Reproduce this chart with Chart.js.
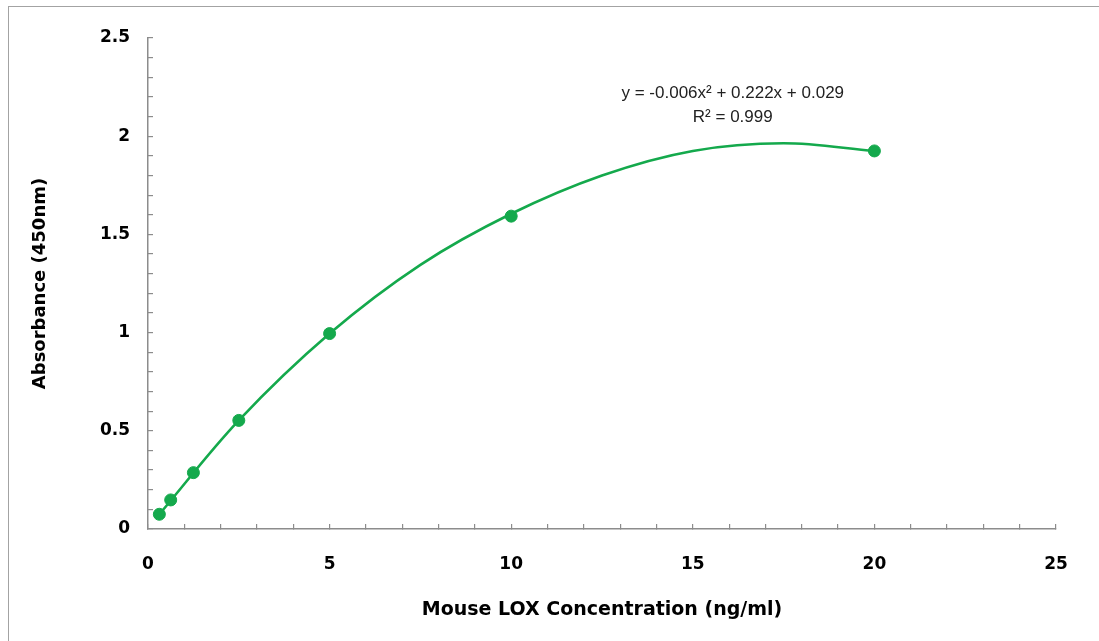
<!DOCTYPE html>
<html lang="en">

<head>
	<meta charset="UTF-8">
	<title>Mouse LOX Standard Curve</title>
	<script src="https://cdn.jsdelivr.net/npm/chart.js"></script>
	<style>
	html, body { margin: 0; padding: 0; background: #fff; overflow: hidden; }
	#frame { position: absolute; left: 8px; top: 6px; width: 1300px; height: 900px; border: 1.5px solid #a3a3a3; }
	#wrap { position: absolute; left: 0; top: 0; width: 1099px; height: 641px; }
	</style>
</head>

<body>
	<div id="frame"></div>
	<div id="wrap"><canvas id="stdChart"></canvas></div>
	<script>
	// standard points (ng/ml vs OD450)
	const concentrations = [0.3125, 0.625, 1.25, 2.5, 5, 10, 20];
	const absorbance = [0.075, 0.148, 0.287, 0.553, 0.995, 1.593, 1.925];

	// trendline
	const trendX = [0.3125, 2.5, 5, 7.5, 10, 12.5, 15, 17.5, 20];
	const trendY = [0.075, 0.553, 0.995, 1.345, 1.605, 1.8, 1.925, 1.964, 1.925];

	const equationLines = ['y = -0.006x\u00b2 + 0.222x + 0.029', 'R\u00b2 = 0.999'];

	const green = '#14a94c';
	const axisGrey = '#8c8c8c';
	const tickFont = { family: 'DejaVu Sans', weight: 'bold', size: 17 };

	const equationPlugin = {
		id: 'equation',
		afterDatasetsDraw(chart) {
			const ctx = chart.ctx;
			const x = chart.scales.x.getPixelForValue(16.1);
			const y = chart.scales.y.getPixelForValue(2.22);
			ctx.save();
			ctx.fillStyle = '#222';
			ctx.font = '17px "Liberation Sans", Arial, sans-serif';
			ctx.textAlign = 'center';
			ctx.textBaseline = 'middle';
			ctx.fillText(equationLines[0], x, y);
			ctx.fillText(equationLines[1], x, y + 24);
			ctx.restore();
		}
	};

	new Chart(document.getElementById('stdChart'), {
		type: 'scatter',
		data: {
			datasets: [{
				label: 'Standards',
				data: concentrations.map((c, i) => ({ x: c, y: absorbance[i] })),
				backgroundColor: green,
				borderColor: green,
				pointRadius: 6,
				pointHoverRadius: 6
			}, {
				label: 'Poly. trend',
				data: trendX.map((c, i) => ({ x: c, y: trendY[i] })),
				showLine: true,
				tension: 0.35,
				borderColor: green,
				borderWidth: 2.6,
				pointRadius: 0,
				fill: false
			}]
		},
		options: {
			responsive: true,
			maintainAspectRatio: false,
			animation: false,
			layout: { padding: { left: 0, top: 38, right: 43, bottom: 0 } },
			plugins: {
				legend: { display: false },
				tooltip: { enabled: false }
			},
			scales: {
				x: {
					type: 'linear',
					min: 0,
					max: 25,
					afterFit(scale) { scale.height = 112; },
					border: { color: axisGrey, width: 1.5 },
					grid: { drawOnChartArea: false, tickLength: -5, color: axisGrey, lineWidth: 1.2 },
					ticks: {
						stepSize: 1,
						autoSkip: false,
						maxRotation: 0,
						padding: 30,
						color: '#000',
						font: tickFont,
						callback: v => (v % 5 === 0 ? String(v) : '')
					},
					title: {
						display: true,
						text: 'Mouse LOX Concentration (ng/ml)',
						color: '#000',
						font: { family: 'DejaVu Sans', weight: 'bold', size: 19 },
						padding: { top: 0, bottom: 20 }
					}
				},
				y: {
					min: 0,
					max: 2.5,
					afterFit(scale) { scale.width = 148; },
					border: { color: axisGrey, width: 1.5 },
					grid: { drawOnChartArea: false, tickLength: -5, color: axisGrey, lineWidth: 1.2 },
					ticks: {
						stepSize: 0.1,
						autoSkip: false,
						padding: 23,
						color: '#000',
						font: tickFont,
						callback: v => {
							const r = Math.round(v * 10) / 10;
							return Math.abs(r * 2 - Math.round(r * 2)) < 1e-6 ? String(r) : '';
						}
					},
					title: {
						display: true,
						text: 'Absorbance (450nm)',
						color: '#000',
						font: { family: 'DejaVu Sans', weight: 'bold', size: 18 },
						padding: { top: 30, bottom: 0 }
					}
				}
			}
		},
		plugins: [equationPlugin]
	});
	</script>
</body>

</html>
